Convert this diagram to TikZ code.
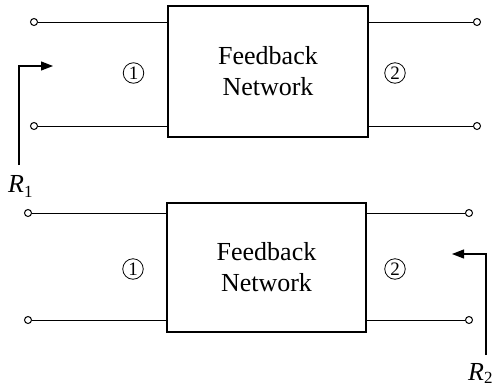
\documentclass[tikz,border=0pt]{standalone}
\usepackage{fontspec}
\setmainfont{Liberation Serif}
\usetikzlibrary{arrows.meta}
\begin{document}
\begin{tikzpicture}[x=1pt,y=-1pt,
  netbox/.style={draw, line width=1.8pt, inner sep=0pt, align=center,
    font=\fontsize{26}{31}\selectfont},
  term/.style={circle, draw, fill=white, line width=1pt, minimum size=7pt, inner sep=0pt},
  wire/.style={line width=1pt},
  portlbl/.style={circle, draw, line width=0.8pt, minimum size=20.5pt, inner sep=0pt,
    font=\fontsize{19}{19}\selectfont},
  probe/.style={line width=1.2pt, -{Triangle[length=12pt,width=9pt]}},
  rlabel/.style={inner sep=0pt, anchor=base west, font=\fontsize{26}{26}\selectfont}
]
\useasboundingbox (0,0) rectangle (496,389);

% upper two-port
\node[netbox, minimum width=200pt, minimum height=131pt] (fb1) at (268,71.5) {Feedback\\Network};
\node[term] (a1) at (34,22) {};
\node[term] (a2) at (34,126) {};
\node[term] (b1) at (477,22) {};
\node[term] (b2) at (477,126) {};
\draw[wire] (a1) -- (a1 -| fb1.west);
\draw[wire] (a2) -- (a2 -| fb1.west);
\draw[wire] (b1) -- (b1 -| fb1.east);
\draw[wire] (b2) -- (b2 -| fb1.east);
\node[portlbl] (p11) at (133.5,73) {1};
\node[portlbl] (p12) at (395,73) {2};

% resistance seen at port 1
\node[rlabel] (r1) at (8,192) {\textit{R}\raisebox{-0.2em}{\fontsize{17}{17}\selectfont 1}};
\coordinate (r1base) at (19,165);
\coordinate (r1tip) at (53,66);
\draw[probe] (r1base) |- (r1tip);

% lower two-port
\node[netbox, minimum width=199pt, minimum height=129pt] (fb2) at (266.5,267.5) {Feedback\\Network};
\node[term] (c1) at (28,213) {};
\node[term] (c2) at (28,320) {};
\node[term] (d1) at (469,213) {};
\node[term] (d2) at (469,320) {};
\draw[wire] (c1) -- (c1 -| fb2.west);
\draw[wire] (c2) -- (c2 -| fb2.west);
\draw[wire] (d1) -- (d1 -| fb2.east);
\draw[wire] (d2) -- (d2 -| fb2.east);
\node[portlbl] (p21) at (133,269) {1};
\node[portlbl] (p22) at (395,269) {2};

% resistance seen at port 2
\node[rlabel] (r2) at (468,380) {\textit{R}\raisebox{-0.15em}{\fontsize{17}{17}\selectfont 2}};
\coordinate (r2base) at (486,355);
\coordinate (r2tip) at (452,254);
\draw[probe] (r2base) |- (r2tip);
\end{tikzpicture}
\end{document}
